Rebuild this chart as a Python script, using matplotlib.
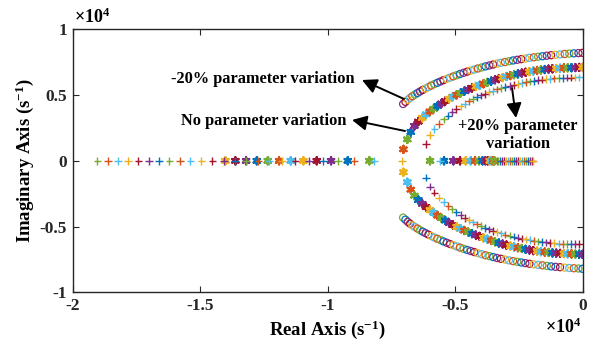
import matplotlib
matplotlib.use('Agg')
import matplotlib.pyplot as plt

plt.rcParams['font.family'] = ['Liberation Serif', 'DejaVu Serif']
plt.rcParams['font.weight'] = 'bold'
plt.rcParams['mathtext.fontset'] = 'custom'
plt.rcParams['mathtext.rm'] = 'Liberation Serif:bold'
plt.rcParams['mathtext.bf'] = 'Liberation Serif:bold'
plt.rcParams['mathtext.it'] = 'Liberation Serif:bold'

# MATLAB default colour order
matlab_colors = ['#0072BD', '#D95319', '#EDB120', '#7E2F8E', '#77AC30', '#4DBEEE', '#A2142F']

# -20 % parameter variation: complex pole pair (upper half, lower is conjugate)
minus20_re = [-7050, -6960, -6870, -6780, -6690, -6590, -6490, -6390, -6280, -6170,
              -6060, -5950, -5830, -5710, -5590, -5470, -5340, -5210, -5080, -4950,
              -4820, -4680, -4540, -4400, -4260, -4120, -3970, -3820, -3670, -3520,
              -3370, -3220, -3060, -2900, -2740, -2580, -2420, -2260, -2100, -1930,
              -1760, -1590, -1420, -1250, -1080, -900, -720, -540, -360, -180, -20]
minus20_im = [4320, 4480, 4640, 4780, 4910, 5030, 5150, 5270, 5390, 5500,
              5610, 5720, 5830, 5930, 6030, 6130, 6230, 6330, 6420, 6510,
              6600, 6690, 6780, 6860, 6940, 7020, 7100, 7180, 7250, 7320,
              7390, 7450, 7510, 7570, 7630, 7680, 7730, 7780, 7830, 7870,
              7910, 7950, 7990, 8030, 8060, 8090, 8120, 8150, 8170, 8190, 8210]

# nominal parameters: complex pole pair
nominal_re = [-7040, -6885, -6750, -6610, -6455, -6300, -6150, -6000, -5850, -5700,
              -5550, -5400, -5250, -5100, -4950, -4800, -4650, -4500, -4350, -4200,
              -4050, -3900, -3750, -3600, -3450, -3300, -3150, -3000, -2850, -2700,
              -2550, -2400, -2250, -2100, -1950, -1800, -1650, -1500, -1350, -1200,
              -1050, -900, -750, -600, -450, -300, -150, -20]
nominal_im = [870, 1630, 2190, 2650, 2980, 3270, 3530, 3750, 3960, 4170,
              4360, 4540, 4720, 4880, 5020, 5160, 5300, 5420, 5540, 5650,
              5750, 5860, 5960, 6060, 6160, 6250, 6330, 6410, 6480, 6550,
              6610, 6670, 6730, 6780, 6830, 6870, 6910, 6940, 6970, 7000,
              7020, 7040, 7060, 7070, 7080, 7090, 7100, 7110]
# nominal parameters: real poles
nominal_real_left = [-14016, -13625, -13205, -12786, -12355, -11912, -11454, -10960,
                     -10435, -9875, -9220, -8374]
nominal_real_right = [-5995, -5447, -5082, -4820, -4597, -4400, -4232, -4075, -3940,
                      -3830, -3735, -3655, -3585, -3525, -3470]

# +20 % parameter variation: complex pole pair
plus20_re = [-6160, -5995, -5826, -5643, -5447, -5278, -5121, -4960, -4800, -4640,
             -4480, -4320, -4160, -4000, -3840, -3680, -3520, -3360, -3200, -3040,
             -2880, -2720, -2560, -2400, -2240, -2080, -1920, -1760, -1600, -1440,
             -1280, -1120, -960, -800, -640, -480, -320, -160]
plus20_im = [1280, 1960, 2420, 2800, 3150, 3430, 3690, 3920, 4140, 4340,
             4520, 4690, 4840, 4980, 5100, 5220, 5330, 5430, 5520, 5610,
             5690, 5770, 5840, 5910, 5970, 6030, 6080, 6130, 6170, 6210,
             6240, 6270, 6290, 6310, 6320, 6330, 6335, 6340]
# +20 % parameter variation: real poles
plus20_real_left = [-19032, -18625, -18233, -17841, -17426, -17018, -16614, -16211,
                    -15803, -15388, -14957, -14526, -14079, -13636, -13205, -12723,
                    -12316, -11795, -11273, -10748, -10200, -9612, -8962, -8190]
plus20_real_right = [-7104, -5604, -3390, -3315, -3235, -3160, -3080, -3005, -2925,
                     -2850, -2770, -2695, -2610, -2535, -2455, -2380, -2300, -2225,
                     -2145, -2070, -1990, -1955]

xticks = [-20000, -15000, -10000, -5000, 0]
xticklabels = ['-2', '-1.5', '-1', '-0.5', '0']
yticks = [-10000, -5000, 0, 5000, 10000]
yticklabels = ['-1', '-0.5', '0', '0.5', '1']


def cycle(n, start, step=3):
    return [matlab_colors[(start + step * k) % 7] for k in range(n)]


fig = plt.figure(figsize=(5.94, 3.47), dpi=100)
ax = fig.add_axes([0.1224, 0.1576, 0.8591, 0.7580])

# -20 %: circles
neg = [-v for v in minus20_im]
ax.scatter(minus20_re, minus20_im, s=26, marker='o', facecolors='none',
           edgecolors=cycle(len(minus20_re), 3), linewidths=0.9)
ax.scatter(minus20_re, neg, s=26, marker='o', facecolors='none',
           edgecolors=cycle(len(minus20_re), 4), linewidths=0.9)

# nominal: asterisks
ast = (6, 2, 0)
neg = [-v for v in nominal_im]
ax.scatter(nominal_re, nominal_im, s=26, marker=ast,
           c=cycle(len(nominal_re), 1), linewidths=1.7)
ax.scatter(nominal_re, neg, s=26, marker=ast,
           c=cycle(len(nominal_re), 2), linewidths=1.7)
ax.scatter(nominal_real_left, [0] * len(nominal_real_left), s=26, marker=ast,
           c=cycle(len(nominal_real_left), 2, -3), linewidths=1.7)
ax.scatter(nominal_real_right, [0] * len(nominal_real_right), s=26, marker=ast,
           c=cycle(len(nominal_real_right), 4, 3), linewidths=1.7)

# +20 %: pluses
neg = [-v for v in plus20_im]
ax.scatter(plus20_re, plus20_im, s=30, marker='+',
           c=cycle(len(plus20_re), 6), linewidths=1.0)
ax.scatter(plus20_re, neg, s=30, marker='+',
           c=cycle(len(plus20_re), 0), linewidths=1.0)
ax.scatter(plus20_real_left, [0] * len(plus20_real_left), s=30, marker='+',
           c=cycle(len(plus20_real_left), 4, -3), linewidths=1.0)
ax.scatter(plus20_real_right, [0] * len(plus20_real_right), s=30, marker='+',
           c=cycle(len(plus20_real_right), 2, 3), linewidths=1.0)

ax.set_xlim(-20000, 0)
ax.set_ylim(-10000, 10000)
ax.set_xticks(xticks)
ax.set_xticklabels(xticklabels)
ax.set_yticks(yticks)
ax.set_yticklabels(yticklabels)
ax.tick_params(direction='in', top=True, right=True, length=4, width=0.8,
               labelsize=12.5, pad=4, colors='#262626')
for sp in ax.spines.values():
    sp.set_linewidth(1.0)
    sp.set_color('#262626')

ax.set_xlabel('Real Axis (s$^{-1}$)', fontsize=13.5, fontweight='bold', labelpad=3)
ax.set_ylabel('Imaginary Axis (s$^{-1}$)', fontsize=13.5, fontweight='bold', labelpad=3)

fig.text(0.1245, 0.922, r'$\times$10$^{4}$', fontsize=13, ha='left', va='bottom')
fig.text(0.918, 0.03, r'$\times$10$^{4}$', fontsize=13, ha='left', va='bottom')

arrow = dict(arrowstyle='-|>,head_length=0.55,head_width=0.28', color='k', lw=1.4,
             mutation_scale=16, shrinkA=0, shrinkB=0)
ax.annotate('', xy=(-8660, 6144), xytext=(-7014, 4700), arrowprops=arrow)
ax.text(-12550, 6220, '-20% parameter variation', fontsize=11.8, ha='center', va='center')
ax.annotate('', xy=(-9052, 3103), xytext=(-6975, 2266), arrowprops=arrow)
ax.text(-12500, 3027, 'No parameter variation', fontsize=11.8, ha='center', va='center')
ax.annotate('', xy=(-2625, 3255), xytext=(-2782, 5536), arrowprops=arrow)
ax.text(-2550, 1960, '+20% parameter\nvariation', fontsize=11.8, ha='center', va='center',
        linespacing=1.2)

fig.savefig('out.png', dpi=100)
